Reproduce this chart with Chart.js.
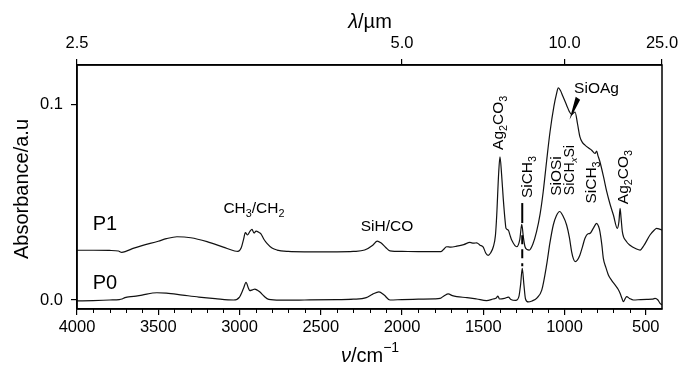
<!DOCTYPE html>
<html lang="en">
<head>
<meta charset="utf-8" />
<title>IR spectra P0 / P1</title>
<script src="https://cdn.jsdelivr.net/npm/chart.js@4.4.0/dist/chart.umd.min.js"></script>
<style>
  html, body { margin: 0; padding: 0; background: #fff; }
  #spectra { display: block; }
</style>
</head>
<body>
<canvas id="spectra" width="692" height="381"></canvas>
<script>
// P1 spectrum (wavenumber cm-1, absorbance)
var p1Wavenumber = [4000, 3900, 3800, 3745, 3725, 3700, 3650, 3600, 3500, 3450, 3385, 3300, 3200, 3100, 3030, 3010,
    2990, 2975, 2964, 2950, 2935, 2923, 2911, 2898, 2880, 2868, 2850, 2831, 2800, 2769, 2700, 2600, 2400, 2300,
    2230, 2180, 2152, 2130, 2100, 2074, 2000, 1900, 1800, 1760, 1740, 1725, 1700, 1663, 1620, 1582, 1560, 1540,
    1520, 1500, 1485, 1470, 1455, 1438, 1425, 1417, 1405, 1397, 1387, 1377, 1365, 1360, 1346, 1335, 1325, 1294,
    1275, 1263, 1253, 1243, 1230, 1217, 1195, 1172, 1150, 1131, 1110, 1089, 1065, 1050, 1038, 1025, 1010, 987,
    970, 956, 945, 935, 920, 905, 890, 874, 850, 833, 812, 802, 795, 782, 760, 740, 720, 699, 675, 665, 658, 652,
    644, 620, 597, 560, 535, 510, 474, 450, 433, 415, 400];
var p1Absorbance = [0.0254, 0.0254, 0.0253, 0.0250, 0.0243, 0.0248, 0.0265, 0.0278, 0.0300, 0.0313, 0.0323, 0.0318,
    0.0298, 0.0270, 0.0250, 0.0248, 0.0265, 0.0310, 0.0344, 0.0332, 0.0352, 0.0361, 0.0342, 0.0352, 0.0345, 0.0338,
    0.0310, 0.0289, 0.0265, 0.0255, 0.0248, 0.0246, 0.0246, 0.0248, 0.0255, 0.0280, 0.0301, 0.0292, 0.0268, 0.0251,
    0.0248, 0.0247, 0.0247, 0.0247, 0.0262, 0.0272, 0.0270, 0.0275, 0.0283, 0.0294, 0.0290, 0.0292, 0.0280, 0.0270,
    0.0240, 0.0228, 0.0240, 0.0272, 0.0330, 0.0434, 0.0650, 0.0731, 0.0640, 0.0519, 0.0400, 0.0366, 0.0357, 0.0330,
    0.0306, 0.0272, 0.0310, 0.0386, 0.0320, 0.0272, 0.0258, 0.0255, 0.0285, 0.0349, 0.0440, 0.0553, 0.0710, 0.0859,
    0.0990, 0.1050, 0.1083, 0.1070, 0.1040, 0.0995, 0.0962, 0.0947, 0.0955, 0.0960, 0.0900, 0.0833, 0.0805, 0.0791,
    0.0775, 0.0765, 0.0748, 0.0760, 0.0740, 0.0706, 0.0630, 0.0553, 0.0490, 0.0434, 0.0366, 0.0400, 0.0468, 0.0420,
    0.0349, 0.0300, 0.0280, 0.0262, 0.0255, 0.0280, 0.0332, 0.0355, 0.0366, 0.0362, 0.0357];

// P0 spectrum
var p0Wavenumber = [4000, 3900, 3800, 3740, 3723, 3705, 3692, 3650, 3600, 3508, 3450, 3350, 3250, 3150, 3036, 3000,
    2975, 2960, 2945, 2937, 2920, 2906, 2890, 2876, 2850, 2820, 2750, 2600, 2400, 2300, 2220, 2180, 2142, 2110,
    2074, 2000, 1900, 1800, 1766, 1740, 1715, 1690, 1663, 1600, 1540, 1480, 1440, 1420, 1410, 1400, 1370, 1345,
    1330, 1300, 1280, 1270, 1260, 1250, 1240, 1223, 1200, 1170, 1140, 1110, 1090, 1069, 1050, 1030, 1010, 987,
    970, 956, 945, 935, 920, 905, 890, 874, 855, 843, 823, 802, 790, 782, 770, 761, 745, 730, 710, 689, 670, 658,
    645, 638, 625, 617, 600, 576, 530, 494, 460, 443, 425, 412, 400];
var p0Absorbance = [-0.0005, -0.0003, 0.0000, 0.0002, 0.0005, 0.0012, 0.0015, 0.0018, 0.0025, 0.0037, 0.0035, 0.0025,
    0.0015, 0.0007, 0.0000, 0.0015, 0.0060, 0.0090, 0.0060, 0.0048, 0.0052, 0.0056, 0.0050, 0.0042, 0.0020, 0.0003,
    -0.0001, 0.0000, 0.0002, 0.0004, 0.0012, 0.0030, 0.0041, 0.0025, 0.0000, 0.0002, 0.0004, 0.0006, 0.0008, 0.0022,
    0.0031, 0.0022, 0.0017, 0.0012, 0.0005, -0.0003, 0.0005, 0.0010, 0.0020, 0.0005, 0.0008, 0.0015, 0.0003, -0.0002,
    0.0020, 0.0080, 0.0162, 0.0080, 0.0005, -0.0010, -0.0005, 0.0010, 0.0050, 0.0179, 0.0290, 0.0383, 0.0430, 0.0452,
    0.0430, 0.0383, 0.0320, 0.0246, 0.0210, 0.0196, 0.0205, 0.0230, 0.0270, 0.0315, 0.0338, 0.0340, 0.0366, 0.0391,
    0.0375, 0.0349, 0.0280, 0.0213, 0.0165, 0.0128, 0.0100, 0.0077, 0.0055, 0.0034, 0.0005, -0.0009, 0.0010, 0.0017,
    0.0008, 0.0000, 0.0002, 0.0003, 0.0004, 0.0008, 0.0000, -0.0017, -0.0025];

// tick positions
var bottomTicks = [4000, 3500, 3000, 2500, 2000, 1500, 1000, 500];
var topTicks = [4000, 2000, 1000, 400];   // wavenumbers where lambda = 2.5, 5, 10, 25 um
var leftTicks = [0, 0.1];

var FONT = '"Liberation Sans", Arial, Helvetica, sans-serif';

function toPoints(xs, ys) {
    return xs.map(function (w, i) { return { x: w, y: ys[i] }; });
}

// draw text made of pieces, some of them sub/superscript, centred on (cx, cy)
function richText(ctx, parts, size, cx, cy, rotate) {
    ctx.save();
    ctx.translate(cx, cy);
    if (rotate) ctx.rotate(-Math.PI / 2);
    ctx.textBaseline = 'middle';
    ctx.textAlign = 'left';
    var total = 0;
    parts.forEach(function (p) {
        var s = (p.sub || p.sup) ? size * 0.7 : size;
        ctx.font = (p.italic ? 'italic ' : '') + s + 'px ' + FONT;
        p.w = ctx.measureText(p.t).width;
        total += p.w;
    });
    var xx = -total / 2;
    parts.forEach(function (p) {
        var s = (p.sub || p.sup) ? size * 0.7 : size;
        ctx.font = (p.italic ? 'italic ' : '') + s + 'px ' + FONT;
        var dy = p.sub ? size * 0.3 : (p.sup ? -size * 0.4 : 0);
        ctx.fillText(p.t, xx, dy);
        xx += p.w;
    });
    ctx.restore();
}

// peak labels, placed in data units (wavenumber, absorbance)
var notes = [
    { parts: [{ t: 'P1' }], w: 3828, v: 0.0385, size: 20 },
    { parts: [{ t: 'P0' }], w: 3828, v: 0.0085, size: 20 },
    { parts: [{ t: 'CH' }, { t: '3', sub: true }, { t: '/CH' }, { t: '2', sub: true }], w: 2911, v: 0.0465, size: 15.5 },
    { parts: [{ t: 'SiH/CO' }], w: 2092, v: 0.0372, size: 15.5 },
    { parts: [{ t: 'Ag' }, { t: '2', sub: true }, { t: 'CO' }, { t: '3', sub: true }], w: 1403, v: 0.0905, size: 15.5, rot: true },
    { parts: [{ t: 'SiCH' }, { t: '3', sub: true }], w: 1225, v: 0.0628, size: 15.5, rot: true },
    { parts: [{ t: 'SiOSi' }], w: 1046, v: 0.0633, size: 15.5, rot: true },
    { parts: [{ t: 'SiCH' }, { t: 'x', sub: true, italic: true }, { t: 'Si' }], w: 966, v: 0.0663, size: 14, rot: true },
    { parts: [{ t: 'SiCH' }, { t: '3', sub: true }], w: 831, v: 0.0600, size: 15.5, rot: true },
    { parts: [{ t: 'Ag' }, { t: '2', sub: true }, { t: 'CO' }, { t: '3', sub: true }], w: 634, v: 0.0628, size: 15.5, rot: true },
    { parts: [{ t: 'SiOAg' }], w: 803, v: 0.1077, size: 15.5 }
];

var spectraDecor = {
    id: 'spectraDecor',
    afterDraw: function (chart) {
        var ctx = chart.ctx, a = chart.chartArea;
        var xs = chart.scales.x, ys = chart.scales.y;
        ctx.save();
        ctx.strokeStyle = '#000';
        ctx.fillStyle = '#000';

        // frame
        ctx.lineWidth = 1.5;
        ctx.strokeRect(a.left, a.top, a.right - a.left, a.bottom - a.top);

        // minor ticks every 100 cm-1
        ctx.lineWidth = 1;
        ctx.beginPath();
        for (var w = 500; w < 4000; w += 100) {
            if (w % 500 === 0) continue;
            var px = Math.round(xs.getPixelForValue(w)) + 0.5;
            ctx.moveTo(px, a.bottom);
            ctx.lineTo(px, a.bottom + 4);
        }
        ctx.stroke();

        // SiCH3 marker line through both spectra
        var mx = xs.getPixelForValue(1260);
        ctx.lineWidth = 2;
        ctx.beginPath();
        ctx.moveTo(mx, ys.getPixelForValue(0.0495));
        ctx.lineTo(mx, ys.getPixelForValue(0.0393));
        ctx.stroke();
        ctx.setLineDash([9, 5]);
        ctx.beginPath();
        ctx.moveTo(mx, ys.getPixelForValue(0.0330));
        ctx.lineTo(mx, ys.getPixelForValue(0.0172));
        ctx.stroke();
        ctx.setLineDash([]);

        // SiOAg pointer
        var ax0 = xs.getPixelForValue(954), ay0 = ys.getPixelForValue(0.0952);
        var ax1 = xs.getPixelForValue(922), ay1 = ys.getPixelForValue(0.1027);
        ctx.beginPath();
        ctx.moveTo(ax0, ay0);
        ctx.lineTo(ax1 + 2, ay1 + 1);
        ctx.lineTo(ax1 - 1, ay1 - 1);
        ctx.closePath();
        ctx.lineWidth = 1.5;
        ctx.fill();
        ctx.stroke();

        notes.forEach(function (n) {
            richText(ctx, n.parts, n.size, xs.getPixelForValue(n.w), ys.getPixelForValue(n.v), n.rot);
        });

        // axis titles
        richText(ctx, [{ t: 'Absorbance/a.u' }], 20, 22, (a.top + a.bottom) / 2 + 2, true);
        richText(ctx, [{ t: 'ν', italic: true }, { t: '/cm' }, { t: '−1', sup: true }], 20, 370, 356, false);
        richText(ctx, [{ t: 'λ', italic: true }, { t: '/µm' }], 20, 370, 22, false);
        ctx.restore();
    }
};

var axisGrid = {
    display: true,
    drawOnChartArea: false,
    drawTicks: true,
    tickLength: 6,
    color: '#000',
    lineWidth: 1.2
};

new Chart(document.getElementById('spectra').getContext('2d'), {
    type: 'line',
    data: {
        datasets: [
            { label: 'P1', data: toPoints(p1Wavenumber, p1Absorbance), borderColor: '#111', borderWidth: 1.2,
              pointRadius: 0, cubicInterpolationMode: 'monotone', fill: false },
            { label: 'P0', data: toPoints(p0Wavenumber, p0Absorbance), borderColor: '#111', borderWidth: 1.2,
              pointRadius: 0, cubicInterpolationMode: 'monotone', fill: false }
        ]
    },
    options: {
        responsive: false,
        animation: false,
        devicePixelRatio: 1,
        layout: { padding: { left: 0, right: 30, top: 0, bottom: 0 } },
        plugins: { legend: { display: false }, tooltip: { enabled: false } },
        scales: {
            x: {
                type: 'linear', position: 'bottom', reverse: true, min: 400, max: 4000,
                afterBuildTicks: function (s) { s.ticks = bottomTicks.map(function (v) { return { value: v }; }); },
                afterFit: function (s) { s.height = 72; },
                ticks: { color: '#000', font: { family: FONT, size: 16.5 }, padding: 3, autoSkip: false, maxRotation: 0,
                         callback: function (v) { return String(v); } },
                grid: axisGrid,
                border: { display: true, color: '#000', width: 1.5 }
            },
            x2: {
                type: 'linear', position: 'top', reverse: true, min: 400, max: 4000,
                afterBuildTicks: function (s) { s.ticks = topTicks.map(function (v) { return { value: v }; }); },
                afterFit: function (s) { s.height = 65; },
                ticks: { color: '#000', font: { family: FONT, size: 16.5 }, padding: 6, autoSkip: false, maxRotation: 0,
                         callback: function (v) { return (10000 / v).toFixed(1); } },
                grid: axisGrid,
                border: { display: true, color: '#000', width: 1.5 }
            },
            y: {
                type: 'linear', position: 'left', min: -0.0046, max: 0.12,
                afterBuildTicks: function (s) { s.ticks = leftTicks.map(function (v) { return { value: v }; }); },
                afterFit: function (s) { s.width = 77; },
                ticks: { color: '#000', font: { family: FONT, size: 16.5 }, padding: 8,
                         callback: function (v) { return v.toFixed(1); } },
                grid: axisGrid,
                border: { display: true, color: '#000', width: 1.5 }
            }
        }
    },
    plugins: [spectraDecor]
});
</script>
</body>
</html>
